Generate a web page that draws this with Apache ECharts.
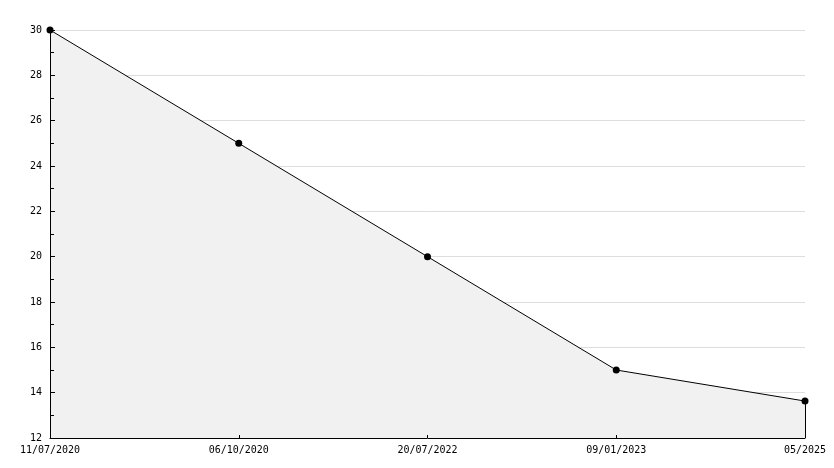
<!DOCTYPE html>
<html><head><meta charset="utf-8">
<script src="https://cdn.jsdelivr.net/npm/echarts@6/dist/echarts.min.js"></script>
<style>html,body{margin:0;padding:0;background:#fff}#c{width:834px;height:468px}</style>
</head><body><div id="c"></div>
<script>
const categories = ['11/07/2020', '06/10/2020', '20/07/2022', '09/01/2023', '05/2025'];
const values = [30, 25, 20, 15, 13.63];
const yMin = 12, yMax = 30, yStep = 2;

const chart = echarts.init(document.getElementById('c'), null, {renderer: 'canvas'});
const font = {fontFamily: 'DejaVu Sans Mono', fontSize: 10, color: '#000'};
const lastIdx = values.length - 1;
chart.setOption({
  animation: false,
  backgroundColor: '#fff',
  grid: {left: 50, right: 29, top: 30, bottom: 30},
  xAxis: {
    type: 'category', data: categories, boundaryGap: false, z: 10,
    axisLine: {lineStyle: {color: '#000', width: 1}},
    axisTick: {show: true, inside: true, length: 3, lineStyle: {color: '#000'}},
    axisLabel: Object.assign({margin: 7, showMinLabel: true, showMaxLabel: true, interval: 0}, font),
    splitLine: {show: false}
  },
  yAxis: [{
    type: 'value', min: yMin, max: yMax, interval: yStep, z: 0,
    axisLine: {show: false}, axisTick: {show: false}, axisLabel: {show: false},
    splitLine: {show: true, lineStyle: {color: '#dddddd', width: 1}}
  }, {
    type: 'value', min: yMin, max: yMax, interval: yStep, z: 10, position: 'left',
    axisLine: {show: true, lineStyle: {color: '#000', width: 1}},
    axisTick: {show: true, inside: true, length: 5, lineStyle: {color: '#000'}},
    minorTick: {show: true, splitNumber: 2, length: 4, lineStyle: {color: '#000'}},
    axisLabel: Object.assign({margin: 8}, font),
    splitLine: {show: false}
  }],
  series: [{
    type: 'line', data: values, yAxisIndex: 0,
    symbol: 'circle', symbolSize: 7,
    itemStyle: {color: '#000'},
    lineStyle: {color: '#000', width: 1},
    areaStyle: {color: '#f1f1f1', opacity: 1, origin: 'start'},
    markLine: {
      silent: true, symbol: 'none', label: {show: false},
      lineStyle: {color: '#000', width: 1, type: 'solid'},
      data: [[{coord: [lastIdx, values[lastIdx]]}, {coord: [lastIdx, yMin]}]]
    }
  }]
});
</script></body></html>
